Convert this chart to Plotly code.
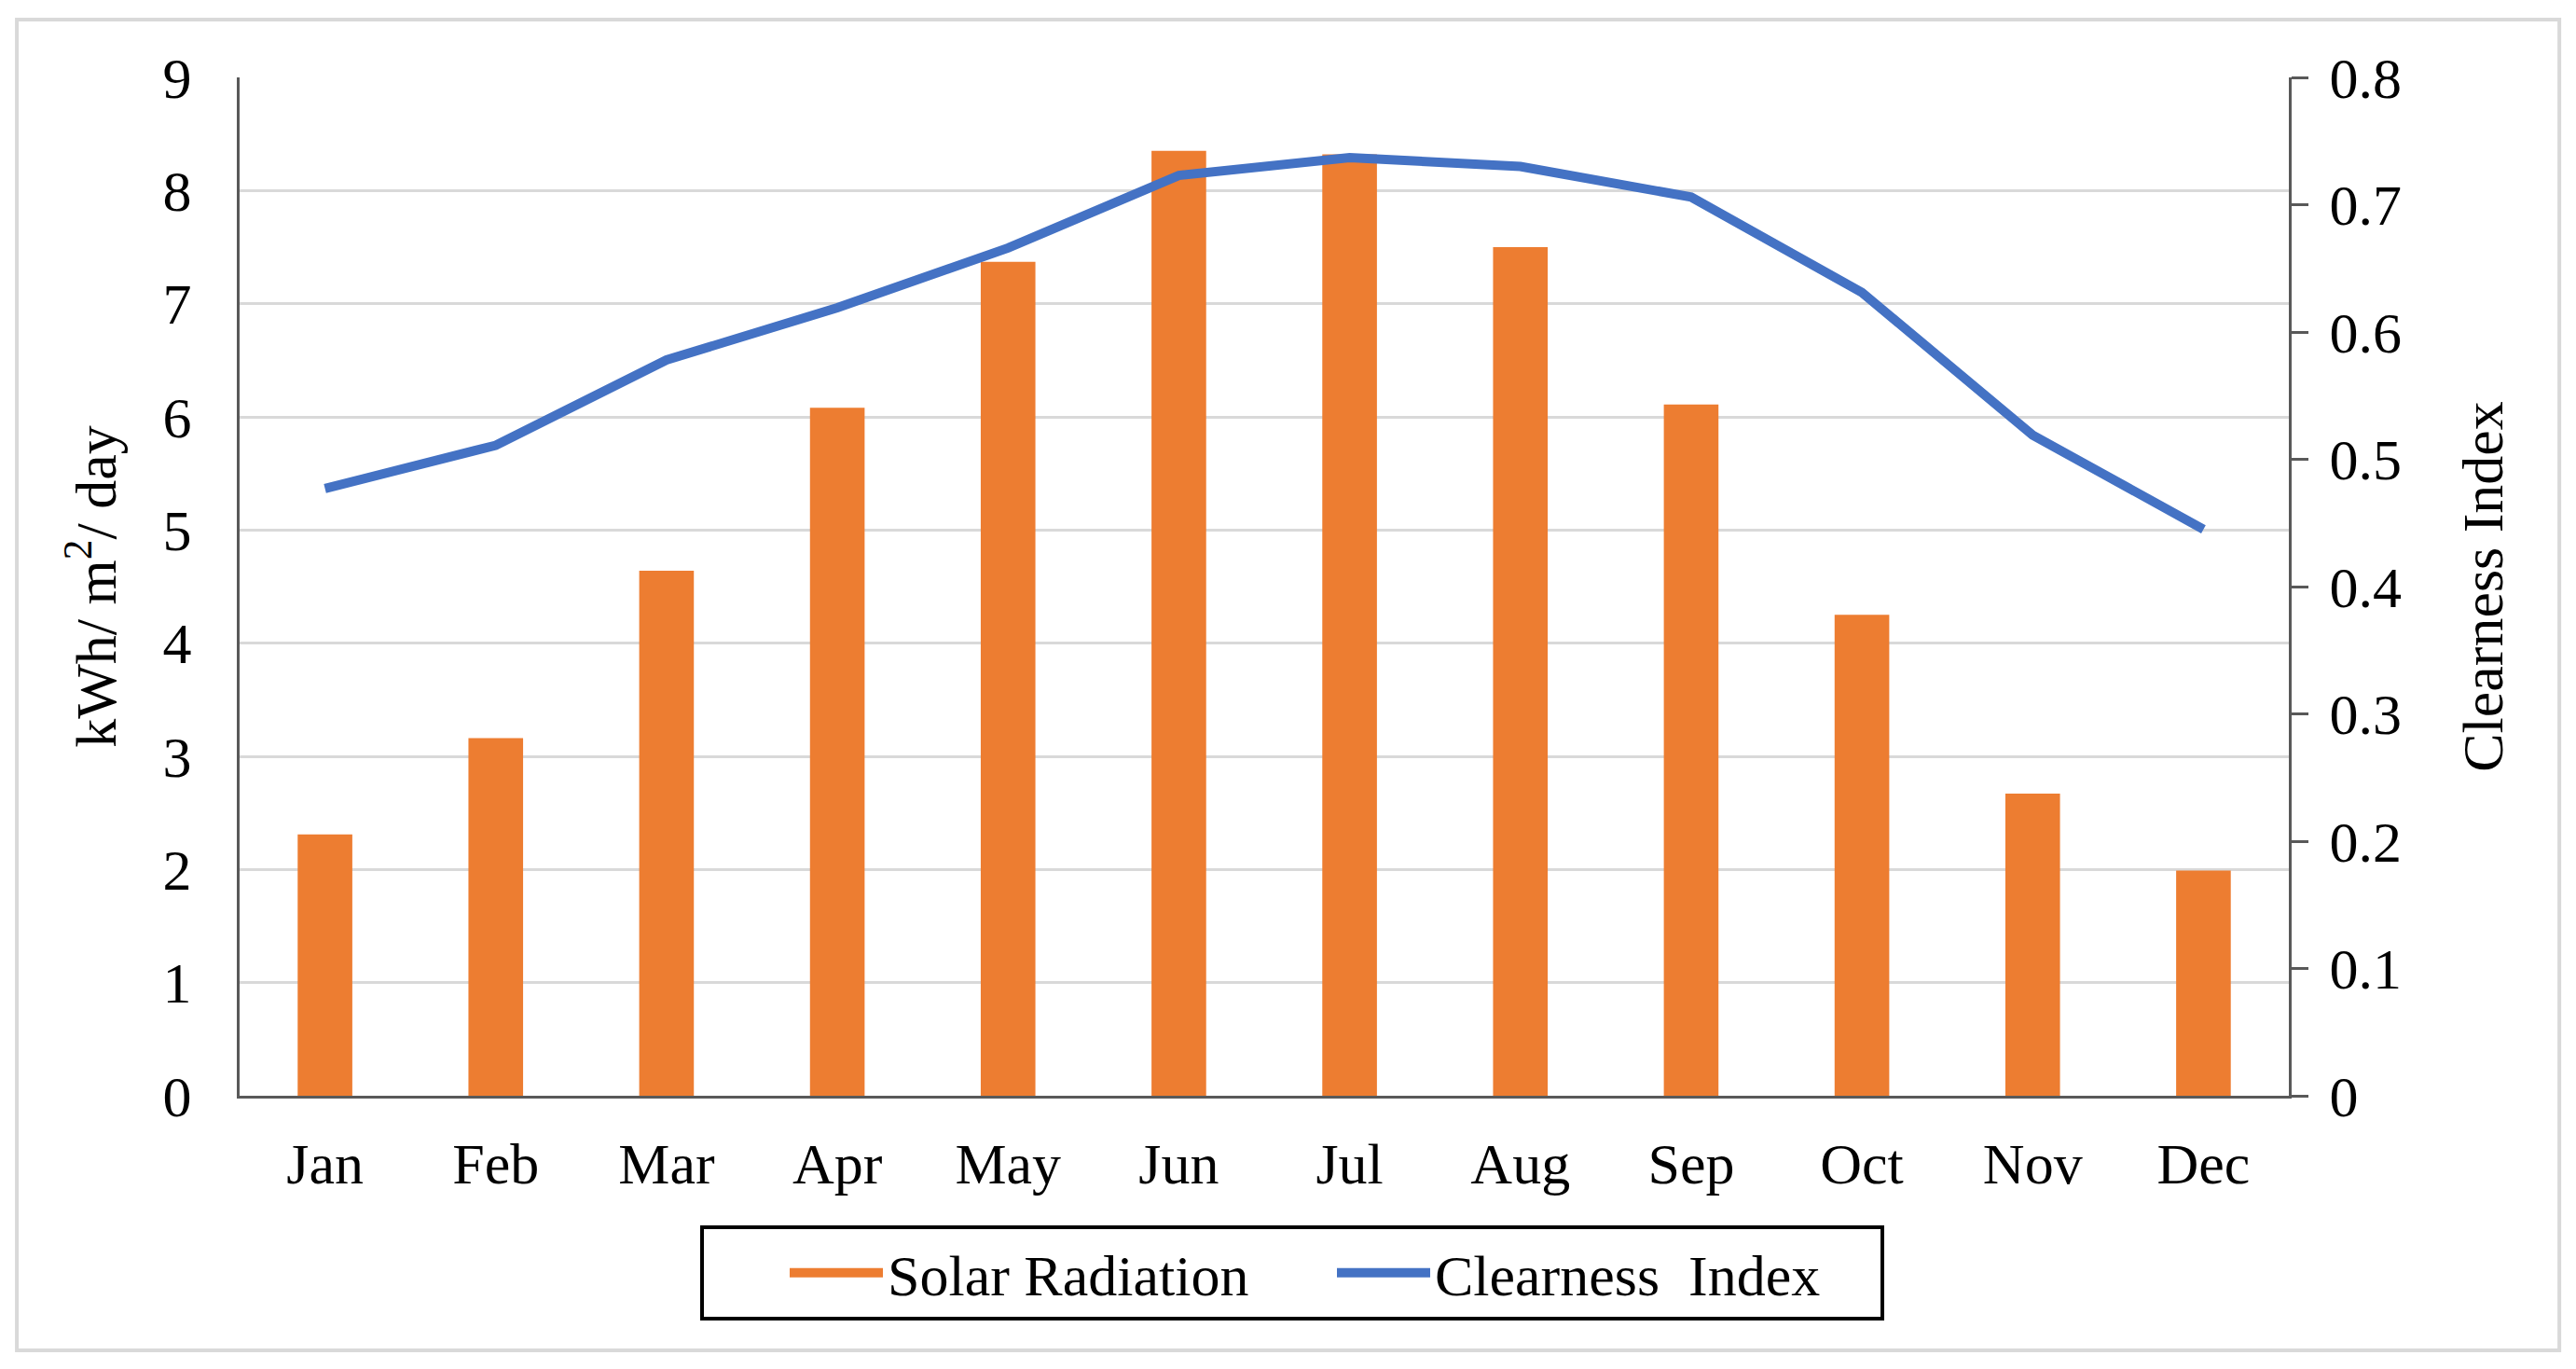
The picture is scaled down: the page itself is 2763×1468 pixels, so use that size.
import plotly.graph_objects as go

months = ["Jan", "Feb", "Mar", "Apr", "May", "Jun", "Jul", "Aug", "Sep", "Oct", "Nov", "Dec"]
solar_radiation = [2.31, 3.16, 4.64, 6.08, 7.37, 8.35, 8.32, 7.50, 6.11, 4.25, 2.67, 1.99]
clearness_index = [0.477, 0.511, 0.578, 0.619, 0.666, 0.723, 0.737, 0.730, 0.706, 0.631, 0.519, 0.445]
left_ticks = [0, 1, 2, 3, 4, 5, 6, 7, 8, 9]
right_ticks = [0, 0.1, 0.2, 0.3, 0.4, 0.5, 0.6, 0.7, 0.8]
right_ticktext = ["0", "0.1", "0.2", "0.3", "0.4", "0.5", "0.6", "0.7", "0.8"]

FONT = "Liberation Serif"
FS = 62
ORANGE = "#ED7D31"
BLUE = "#4472C4"

fig = go.Figure()
fig.add_trace(go.Bar(
    x=months, y=solar_radiation, name="Solar Radiation",
    marker=dict(color=ORANGE, line=dict(width=0)), width=0.32,
    showlegend=False, legendgroup="solar",
))
# legend entry for the bars (wide orange swatch)
fig.add_trace(go.Scatter(
    x=[None], y=[None], name="Solar Radiation", mode="lines",
    line=dict(color=ORANGE, width=40), legendgroup="solar", hoverinfo="skip",
))
fig.add_trace(go.Scatter(
    x=months, y=clearness_index, name="Clearness\u00a0 Index", yaxis="y2",
    mode="lines", line=dict(color=BLUE, width=10),
))

fig.update_layout(
    width=2755, height=1460,
    margin=dict(l=249, r=308, t=75, b=293),
    paper_bgcolor="white", plot_bgcolor="white",
    font=dict(family=FONT, size=FS, color="black"),
    showlegend=True,
    legend=dict(
        orientation="h", xref="container", yref="container",
        x=0.5, xanchor="center", y=0.1055, yanchor="top",
        bordercolor="black", borderwidth=4, bgcolor="white",
        font=dict(family=FONT, size=FS, color="black"),
        title=dict(text="\u00a0" * 5, side="left", font=dict(family=FONT, size=FS)),
        itemwidth=100, entrywidth=472, entrywidthmode="pixels",
        traceorder="normal",
    ),
    xaxis=dict(
        showline=True, linecolor="#595959", linewidth=3,
        showgrid=False, ticks="", ticklabelstandoff=17,
        tickfont=dict(family=FONT, size=FS, color="black"),
    ),
    yaxis=dict(
        range=[0, 9], tickvals=left_ticks, showline=True, linecolor="#595959", linewidth=3,
        showgrid=True, gridcolor="#d9d9d9", gridwidth=3, ticks="",
        ticklabelstandoff=36, zeroline=False,
        title=dict(text="kWh/ m<sup>2</sup>/ day", standoff=30,
                   font=dict(family=FONT, size=FS, color="black")),
        tickfont=dict(family=FONT, size=FS, color="black"),
    ),
    yaxis2=dict(
        range=[0, 0.8], tickvals=right_ticks, ticktext=right_ticktext,
        overlaying="y", side="right", showline=True, linecolor="#595959", linewidth=3,
        showgrid=False, zeroline=False, ticks="outside", ticklen=18, tickwidth=3, tickcolor="#595959",
        ticklabelstandoff=10,
        title=dict(text="Clearness Index", standoff=66,
                   font=dict(family=FONT, size=FS, color="black")),
        tickfont=dict(family=FONT, size=FS, color="black"),
    ),
    shapes=[dict(
        type="rect", xref="paper", yref="paper",
        x0=-0.1087, x1=1.132, y0=-0.25, y1=1.0568,
        line=dict(color="#d9d9d9", width=4), fillcolor="rgba(0,0,0,0)", layer="below",
    )],
)

fig.write_html("out.html")
